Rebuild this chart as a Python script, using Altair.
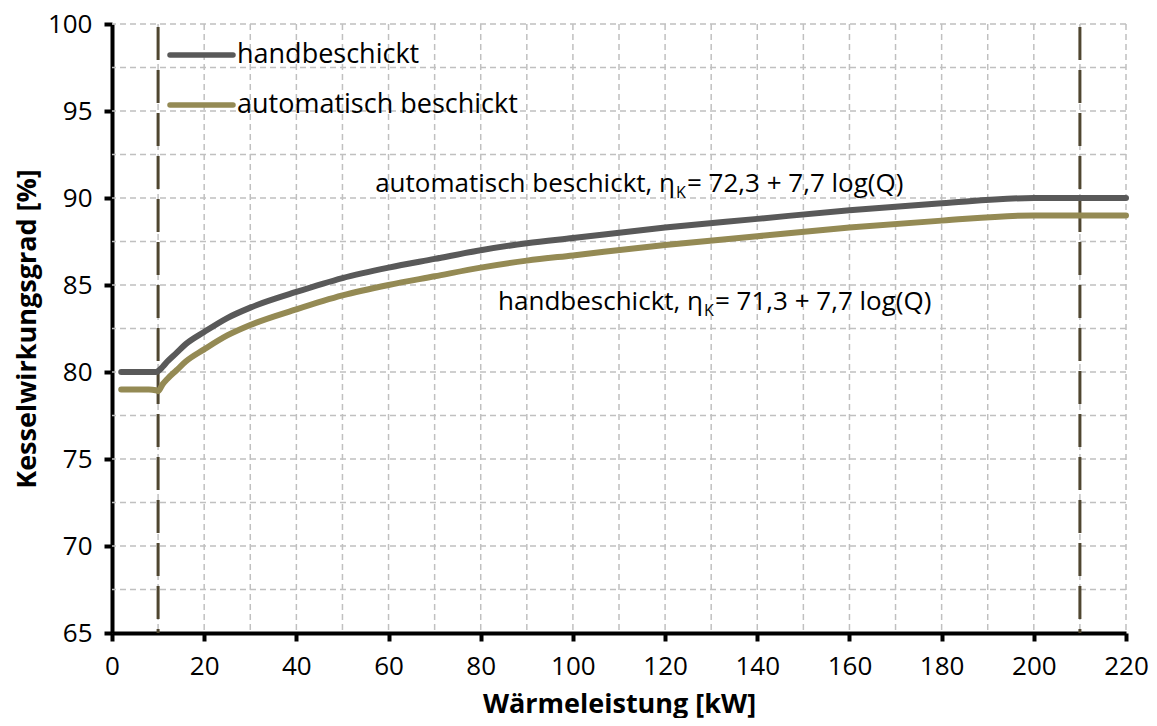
import altair as alt
import pandas as pd

# ---- data ----
x_vals = [2, 8, 9.5, 10, 11, 12, 14, 16, 20, 25, 30, 40, 50, 60, 70, 80, 90, 100,
          120, 140, 160, 180, 200, 220]
hand_vals = [80.0, 80.0, 80.0, 80.05, 80.3, 80.6, 81.1, 81.6, 82.3, 83.1, 83.7, 84.6,
             85.4, 86.0, 86.5, 87.0, 87.4, 87.7, 88.3, 88.8, 89.3, 89.7, 90.0, 90.0]
auto_vals = [79.0, 79.0, 78.95, 78.9, 79.3, 79.6, 80.1, 80.6, 81.3, 82.1, 82.7, 83.6,
             84.4, 85.0, 85.5, 86.0, 86.4, 86.7, 87.3, 87.8, 88.3, 88.7, 89.0, 89.0]
series_names = ["handbeschickt", "automatisch beschickt"]
series_colors = ["#595959", "#948a54"]
limit_x = [10, 210]
x_grid = list(range(10, 230, 10))
y_grid = [67.5, 70, 72.5, 75, 77.5, 80, 82.5, 85, 87.5, 90, 92.5, 95, 97.5, 100]
x_ticks = list(range(0, 240, 20))
y_ticks = [65, 70, 75, 80, 85, 90, 95, 100]
ann_left = ["automatisch beschickt, η", "handbeschickt, η"]
ann_right = ["= 72,3 + 7,7 log(Q)", "= 71,3 + 7,7 log(Q)"]

FONT = "Open Sans"

rows = []
for x, a, b in zip(x_vals, hand_vals, auto_vals):
    rows.append({"x": x, "y": a, "s": series_names[0]})
    rows.append({"x": x, "y": b, "s": series_names[1]})
df = pd.DataFrame(rows)
one = pd.DataFrame({"k": [0]})

xs = alt.Scale(domain=[0, 220], nice=False, zero=False)
ys = alt.Scale(domain=[65, 100], nice=False, zero=False)
ax_x = alt.Axis(title="Wärmeleistung [kW]", values=x_ticks, grid=False, format="d",
                labelFlush=False)
ax_y = alt.Axis(title="Kesselwirkungsgrad [%]", values=y_ticks, grid=False, format="d",
                labelFlush=False)

grid_x = alt.Chart(pd.DataFrame({"x": x_grid})).mark_rule(
    color="#c0c0c0", strokeWidth=1.5, strokeDash=[6, 4]
).encode(x=alt.X("x:Q", scale=xs, axis=ax_x))

grid_y = alt.Chart(pd.DataFrame({"y": y_grid})).mark_rule(
    color="#c0c0c0", strokeWidth=1.5, strokeDash=[6, 4]
).encode(y=alt.Y("y:Q", scale=ys, axis=ax_y))

vlines = alt.Chart(pd.DataFrame({"x": limit_x})).mark_rule(
    color="#4f4630", strokeWidth=3, strokeDash=[33, 10], strokeDashOffset=-3
).encode(x=alt.X("x:Q", scale=xs, axis=ax_x))

lines = alt.Chart(df).mark_line(strokeWidth=6, strokeCap="round", strokeJoin="round",
                                interpolate="monotone").encode(
    x=alt.X("x:Q", scale=xs, axis=ax_x),
    y=alt.Y("y:Q", scale=ys, axis=ax_y),
    color=alt.Color("s:N", scale=alt.Scale(domain=series_names, range=series_colors),
                    legend=None),
    detail="s:N",
)

layers = [grid_x, grid_y, vlines, lines]

# legend (manual, pixel placed)
leg_y = [31, 81]
for name, col, ly in zip(series_names, series_colors, leg_y):
    layers.append(alt.Chart(one).mark_rule(strokeWidth=5.5, strokeCap="round", color=col).encode(
        x=alt.value(58), x2=alt.value(121), y=alt.value(ly)))
    layers.append(alt.Chart(one).mark_text(
        align="left", baseline="middle", font=FONT, fontSize=27, color="#000000").encode(
        x=alt.value(125), y=alt.value(ly), text=alt.value(name)))

# annotations (pixel placed)
ann_pos = [(563, 168), (591, 286)]
for tl, tr, (px, py) in zip(ann_left, ann_right, ann_pos):
    layers.append(alt.Chart(one).mark_text(
        align="right", baseline="alphabetic", font=FONT, fontSize=26, color="#000000").encode(
        x=alt.value(px), y=alt.value(py), text=alt.value(tl)))
    layers.append(alt.Chart(one).mark_text(
        align="left", baseline="alphabetic", font=FONT, fontSize=16, color="#000000").encode(
        x=alt.value(px + 1), y=alt.value(py + 6), text=alt.value("K")))
    layers.append(alt.Chart(one).mark_text(
        align="left", baseline="alphabetic", font=FONT, fontSize=26, color="#000000").encode(
        x=alt.value(px + 12), y=alt.value(py), text=alt.value(tr)))

chart = alt.layer(*layers).properties(
    width=1014, height=609,
    autosize=alt.AutoSizeParams(type="none"),
    padding={"left": 104, "top": 16, "right": 23, "bottom": 85},
).configure_view(stroke=None).configure_axis(
    domainColor="#000000", domainWidth=4, tickColor="#000000", tickWidth=4, tickSize=8,
    labelFont=FONT, labelFontSize=26, labelColor="#000000",
    titleFont=FONT, titleFontSize=27, titleFontWeight="bold", titleColor="#000000",
).configure_axisX(labelPadding=12, titlePadding=12).configure_axisY(labelPadding=12, titlePadding=6)

chart.save("out.html", embed_options={"renderer": "svg", "actions": False})
